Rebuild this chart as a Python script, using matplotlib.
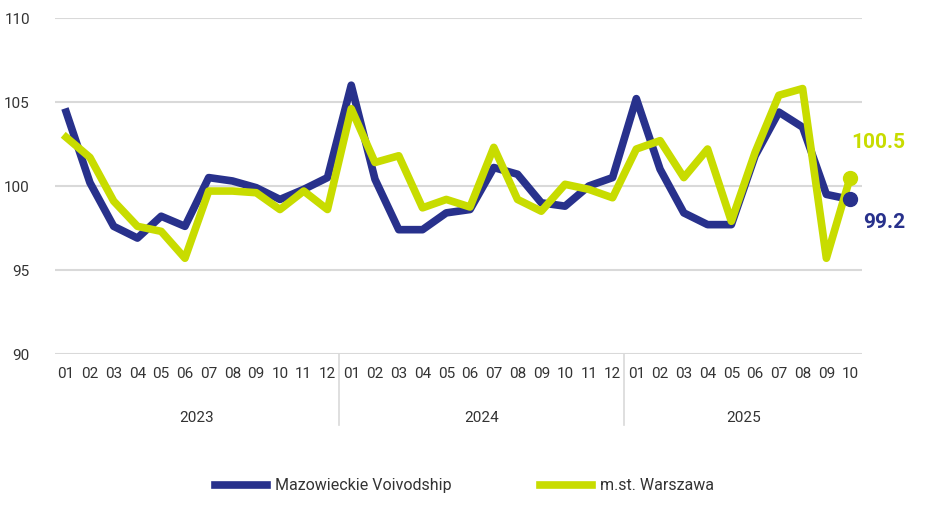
import matplotlib.pyplot as plt
from matplotlib.transforms import blended_transform_factory

months = ["01", "02", "03", "04", "05", "06", "07", "08", "09", "10", "11", "12"] * 2 + \
         ["01", "02", "03", "04", "05", "06", "07", "08", "09", "10"]
years = ["2023", "2024", "2025"]
year_lengths = [12, 12, 10]

mazowieckie = [104.4, 100.2, 97.6, 96.9, 98.2, 97.6, 100.5, 100.3, 99.9, 99.2, 99.8, 100.5,
               106.0, 100.4, 97.4, 97.4, 98.4, 98.6, 101.1, 100.7, 99.0, 98.8, 100.0, 100.5,
               105.2, 101.0, 98.4, 97.7, 97.7, 101.8, 104.4, 103.5, 99.5, 99.2]
warszawa = [102.9, 101.7, 99.1, 97.6, 97.3, 95.7, 99.7, 99.7, 99.6, 98.6, 99.7, 98.6,
            104.6, 101.4, 101.8, 98.7, 99.2, 98.75, 102.3, 99.2, 98.5, 100.1, 99.8, 99.3,
            102.2, 102.7, 100.5, 102.2, 97.9, 102.0, 105.4, 105.8, 95.7, 100.5]

blue = "#28318c"
green = "#c8dc00"
text_color = "#333333"

plt.rcParams["font.family"] = ["Roboto", "DejaVu Sans"]

fig = plt.figure(figsize=(9.29, 5.05), dpi=100)
ax = fig.add_axes([55 / 929, 1 - 354 / 505, 807 / 929, 336 / 505])

x = list(range(len(months)))
ax.plot(x, mazowieckie, color=blue, lw=5.5, solid_joinstyle="round", label="Mazowieckie Voivodship")
ax.plot(x, warszawa, color=green, lw=5.5, solid_joinstyle="round", label="m.st. Warszawa")
ax.plot(x[-1], mazowieckie[-1], "o", color=blue, ms=10)
ax.plot(x[-1], warszawa[-1], "o", color=green, ms=10)

ax.text(x[-1] + 1.2, warszawa[-1] + 2.1, f"{warszawa[-1]:.1f}", color=green, fontsize=15,
        fontweight="bold", ha="center", va="center")
ax.text(x[-1] + 1.45, mazowieckie[-1] - 1.4, f"{mazowieckie[-1]:.1f}", color=blue, fontsize=15,
        fontweight="bold", ha="center", va="center")

ax.set_ylim(90, 110)
ax.set_xlim(-0.47, len(months) - 0.5)
ax.set_yticks([90, 95, 100, 105, 110])
ax.set_xticks(x)
ax.set_xticklabels(months)
ax.grid(axis="y", color="#d9d9d9", lw=1.5)
ax.set_axisbelow(True)
for side in ax.spines.values():
    side.set_visible(False)
ax.tick_params(axis="both", length=0, labelsize=11, colors=text_color)
ax.tick_params(axis="x", pad=9)
ax.tick_params(axis="y", pad=18)

trans = blended_transform_factory(ax.transData, ax.transAxes)
start = 0
for year, n in zip(years, year_lengths):
    ax.text(start + (n - 1) / 2, -0.19, year, transform=trans, ha="center", va="center",
            fontsize=11, color=text_color)
    if start > 0:
        ax.plot([start - 0.5, start - 0.5], [0, -0.21], transform=trans, color="#d9d9d9",
                lw=1.2, clip_on=False)
    start += n

fig.legend(loc="lower center", bbox_to_anchor=(0.5, -0.005), ncol=2, frameon=False,
           fontsize=11.5, handlelength=3.3, handletextpad=0.5, columnspacing=5.5,
           labelcolor=text_color)

fig.savefig("out.png", dpi=100)
